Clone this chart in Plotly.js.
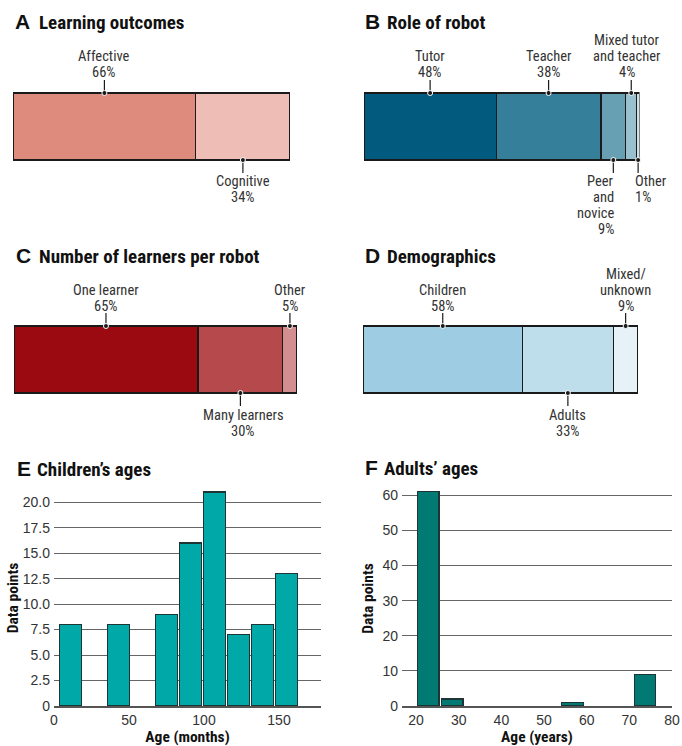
<!DOCTYPE html>
<html>
<head>
<meta charset="utf-8">
<script src="https://cdn.plot.ly/plotly-3.0.1.min.js"></script>
<style>html,body{margin:0;padding:0;background:#fff;}</style>
</head>
<body>
<div id="chart" style="width:682px;height:746px;"></div>
<script>
// ---------------- DATA ----------------
const outcomeLabels = ['Affective', 'Cognitive'];
const outcomeValues = [66, 34];

const roleLabels = ['Tutor', 'Teacher', 'Peer<br>and<br>novice', 'Mixed tutor<br>and teacher', 'Other'];
const roleValues = [48, 38, 9, 4, 1];

const learnerLabels = ['One learner', 'Many learners', 'Other'];
const learnerValues = [65, 30, 5];

const demoLabels = ['Children', 'Adults', 'Mixed/<br>unknown'];
const demoValues = [58, 33, 9];

const childBinEdges = [3, 19, 35, 51, 67, 83, 99, 115, 131, 147, 163];
const childCounts = [8, 0, 8, 0, 9, 16, 21, 7, 8, 13];
const childYTickVals = [0, 2.5, 5, 7.5, 10, 12.5, 15, 17.5, 20];
const childYTickText = ['0', '2.5', '5.0', '7.5', '10.0', '12.5', '15.0', '17.5', '20.0'];
const childXTicks = [0, 50, 100, 150];

const adultBinEdges = [20, 25.65, 31.3, 36.95, 42.6, 48.25, 53.9, 59.55, 65.2, 70.85, 76.5];
const adultCounts = [61, 2, 0, 0, 0, 0, 1, 0, 0, 9];
const adultYTicks = [0, 10, 20, 30, 40, 50, 60];
const adultXTicks = [20, 30, 40, 50, 60, 70, 80];

// ---------------- STYLE / LAYOUT ----------------
const W = 682, H = 746;
const FONT = 'Liberation Sans, Arial, sans-serif';
const COND = 'Roboto Condensed, Liberation Sans, sans-serif';
const px = v => v / W;
const py = v => 1 - v / H;
const INK = '#1a1a1a';
const BAR_PX = 67;     // bar thickness in px
const PAD_PX = 14;     // room for leader lines above/below bar
const LEAD_PX = 13;    // leader line length
const pad = PAD_PX / BAR_PX;
const lead = LEAD_PX / BAR_PX;
const LINE_GAP = 16;   // px between label lines
const UP_OFF = 20, DOWN_OFF = 22;

const panels = [
  {letter: 'A', title: 'Learning outcomes', labels: outcomeLabels, values: outcomeValues,
   colors: ['#DE8A7C', '#EEBDB6'], sides: ['up', 'down'], opts: [{}, {}],
   xd: [13, 290], yd: [93, 160], t: [13, 37, 21]},
  {letter: 'B', title: 'Role of robot', labels: roleLabels, values: roleValues,
   colors: ['#025B7E', '#357F9A', '#66A0B2', '#99C0CD', '#CCE0E6'],
   sides: ['up', 'up', 'down', 'up', 'down'],
   opts: [{}, {}, {xanchor: 'right', xshift: 3}, {xshift: -4}, {xanchor: 'left', xshift: -5}],
   xd: [364, 639.5], yd: [93, 160], t: [363, 385, 21]},
  {letter: 'C', title: 'Number of learners per robot', labels: learnerLabels, values: learnerValues,
   colors: ['#9B0A10', '#B5494C', '#D38E8F'], sides: ['up', 'down', 'up'], opts: [{}, {xshift: 3}, {}],
   xd: [14, 297], yd: [326, 393], t: [14, 37, 255]},
  {letter: 'D', title: 'Demographics', labels: demoLabels, values: demoValues,
   colors: ['#9DCCE3', '#BFDEEC', '#E6F2F8'], sides: ['up', 'down', 'up'], opts: [{}, {}, {}],
   xd: [363, 638], yd: [326, 393], t: [363, 385, 255]}
];

const traces = [];
const annotations = [];
const layout = {
  width: W, height: H,
  margin: {l: 0, r: 0, t: 0, b: 0},
  paper_bgcolor: '#fff', plot_bgcolor: 'rgba(0,0,0,0)',
  barmode: 'stack', showlegend: false,
  font: {family: FONT, size: 13, color: '#333'},
  hovermode: false
};

function addTitle(letter, text, xL, xT, yc) {
  annotations.push({xref: 'paper', yref: 'paper', x: px(xL), y: py(yc), xanchor: 'left', yanchor: 'middle',
    text: '<b>' + letter + '</b>', showarrow: false, font: {family: FONT, size: 21, color: '#111'}});
  annotations.push({xref: 'paper', yref: 'paper', x: px(xT), y: py(yc + 1), xanchor: 'left', yanchor: 'middle',
    text: '<b>' + text + '</b>', showarrow: false, font: {family: COND, size: 19, color: '#111'}});
}

panels.forEach((p, i) => {
  const n = i + 1;
  const xa = 'x' + n, ya = 'y' + n;
  layout['xaxis' + n] = {domain: [px(p.xd[0]), px(p.xd[1])], range: [0, 100], visible: false, fixedrange: true, anchor: ya};
  layout['yaxis' + n] = {domain: [py(p.yd[1] + PAD_PX), py(p.yd[0] - PAD_PX)], range: [-0.5 - pad, 0.5 + pad],
    visible: false, fixedrange: true, anchor: xa};
  let cum = 0;
  const cx = [], cy = [];
  const lx = [], ly = [];
  p.values.forEach((v, j) => {
    traces.push({type: 'bar', orientation: 'h', x: [v], y: [0], width: 1, xaxis: xa, yaxis: ya,
      marker: {color: p.colors[j], line: {color: INK, width: 1.2}}, cliponaxis: false,
      hoverinfo: 'skip', showlegend: false});
    const c = cum + v / 2;
    cum += v;
    const s = p.sides[j] === 'up' ? 1 : -1;
    cx.push(c); cy.push(0.5 * s);
    lx.push(c, c, null); ly.push(0.5 * s, (0.5 + lead) * s, null);
    const o = p.opts[j];
    const lines = p.labels[j].split('<br>').concat([v + '%']);
    lines.forEach((t, k) => {
      const shift = s > 0 ? UP_OFF + LINE_GAP * (lines.length - 1 - k) : -(DOWN_OFF + LINE_GAP * k);
      annotations.push({xref: xa, yref: ya, x: c, y: 0.5 * s, yshift: shift,
        xanchor: o.xanchor || 'center', yanchor: 'middle', xshift: o.xshift || 0, showarrow: false,
        text: t, font: {family: COND, size: 14.5, color: '#333'}});
    });
  });
  traces.push({type: 'scatter', mode: 'lines', x: lx, y: ly, xaxis: xa, yaxis: ya,
    line: {color: INK, width: 1.2}, hoverinfo: 'skip', showlegend: false});
  traces.push({type: 'scatter', mode: 'markers', x: cx, y: cy, xaxis: xa, yaxis: ya, cliponaxis: false,
    marker: {size: 5, color: INK, line: {color: '#fff', width: 1}}, hoverinfo: 'skip', showlegend: false});
  addTitle(p.letter, p.title, p.t[0], p.t[1], p.t[2]);
});

// ---------- Histograms ----------
function hist(edges, counts) {
  const x = [], w = [], lw = [];
  for (let i = 0; i < counts.length; i++) {
    x.push((edges[i] + edges[i + 1]) / 2);
    w.push((edges[i + 1] - edges[i]) * 0.9);
    lw.push(counts[i] > 0 ? 1.2 : 0);
  }
  return {x, w, lw};
}
const hc = hist(childBinEdges, childCounts);
traces.push({type: 'bar', x: hc.x, y: childCounts, width: hc.w, xaxis: 'x5', yaxis: 'y5',
  marker: {color: '#00A9A8', line: {color: '#1d3535', width: hc.lw}}, hoverinfo: 'skip', showlegend: false});
const ha = hist(adultBinEdges, adultCounts);
traces.push({type: 'bar', x: ha.x, y: adultCounts, width: ha.w, xaxis: 'x6', yaxis: 'y6',
  marker: {color: '#007A73', line: {color: '#1d3535', width: ha.lw}}, hoverinfo: 'skip', showlegend: false});

const axFont = {family: FONT, size: 14, color: '#333'};
const titleFont = {family: COND, size: 15.5, color: '#111'};
const xCommon = {showgrid: false, zeroline: false, showline: true, linecolor: '#555', linewidth: 2,
  ticks: '', tickfont: axFont, fixedrange: true};
const yCommon = {showgrid: true, gridcolor: '#666', gridwidth: 1, zeroline: false, showline: false,
  ticks: '', tickfont: axFont, fixedrange: true, ticklabelstandoff: 3};

layout.xaxis5 = Object.assign({}, xCommon, {domain: [px(54), px(321)], range: [0, 178], tickvals: childXTicks,
  anchor: 'y5', title: {text: '<b>Age (months)</b>', font: titleFont, standoff: 1}});
layout.yaxis5 = Object.assign({}, yCommon, {domain: [py(706), py(490)], range: [0, 21.2], tickvals: childYTickVals,
  ticktext: childYTickText, anchor: 'x5', title: {text: '<b>Data points</b>', font: titleFont, standoff: 0}});
layout.xaxis6 = Object.assign({}, xCommon, {domain: [px(402), px(672)], range: [16.7, 80], tickvals: adultXTicks,
  anchor: 'y6', title: {text: '<b>Age (years)</b>', font: titleFont, standoff: 1}});
layout.yaxis6 = Object.assign({}, yCommon, {domain: [py(706), py(491)], range: [0, 61.2], tickvals: adultYTicks,
  anchor: 'x6', title: {text: '<b>Data points</b>', font: titleFont, standoff: 4}});

addTitle('E', 'Children\u2019s ages', 15, 35, 468);
addTitle('F', 'Adults\u2019 ages', 363, 382, 467);

layout.annotations = annotations;

Plotly.newPlot('chart', traces, layout, {staticPlot: true, displayModeBar: false});
</script>
</body>
</html>
